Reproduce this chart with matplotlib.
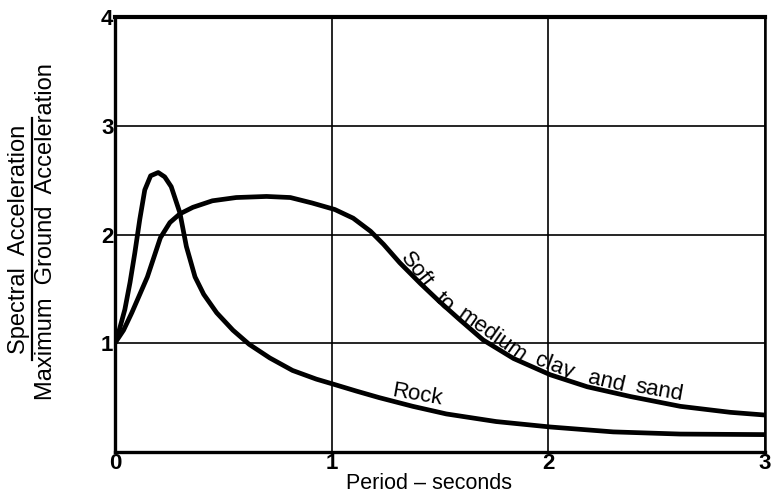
import matplotlib
matplotlib.use("Agg")
import matplotlib.pyplot as plt
from matplotlib.lines import Line2D

# values
ROCK_X = [0.0, 0.02, 0.046, 0.07, 0.092, 0.115, 0.138, 0.165, 0.2, 0.23, 0.26,
          0.30, 0.33, 0.37, 0.41, 0.47, 0.545, 0.62, 0.715, 0.82, 0.93, 1.015,
          1.115, 1.22, 1.375, 1.53, 1.76, 2.01, 2.30, 2.61, 3.0]
ROCK_Y = [1.0, 1.12, 1.31, 1.56, 1.83, 2.14, 2.41, 2.54, 2.57, 2.53, 2.44,
          2.20, 1.89, 1.61, 1.45, 1.28, 1.12, 0.99, 0.865, 0.75, 0.67, 0.62,
          0.56, 0.50, 0.42, 0.35, 0.28, 0.23, 0.185, 0.165, 0.16]

SOFT_X = [0.0, 0.04, 0.078, 0.15, 0.21, 0.254, 0.30, 0.36, 0.45, 0.56, 0.70,
          0.81, 0.91, 1.015, 1.10, 1.18, 1.24, 1.315, 1.41, 1.50, 1.59, 1.70,
          1.84, 2.01, 2.18, 2.38, 2.61, 2.84, 3.0]
SOFT_Y = [1.0, 1.12, 1.28, 1.61, 1.97, 2.11, 2.19, 2.25, 2.31, 2.34, 2.35,
          2.34, 2.29, 2.23, 2.15, 2.03, 1.91, 1.74, 1.55, 1.38, 1.22, 1.03,
          0.86, 0.71, 0.60, 0.51, 0.42, 0.365, 0.34]

X_TICKS = [0, 1, 2, 3]
Y_TICKS = [1, 2, 3, 4]

# curved label, one word at a time
SOFT_WORDS = ["Soft", "to", "medium", "clay", "and", "sand"]
SOFT_WORD_X = [1.39, 1.52, 1.74, 2.03, 2.27, 2.51]
SOFT_WORD_Y = [1.67, 1.38, 1.07, 0.79, 0.645, 0.565]
SOFT_WORD_ROT = [-52, -42, -35, -21, -13, -10]

FONT = "Liberation Sans"


def main():
    plt.rcParams["font.family"] = [FONT, "DejaVu Sans"]

    fig = plt.figure(figsize=(7.71, 4.96), dpi=100)
    ax = fig.add_axes([0.149, 0.0887, 0.843, 0.877])

    for xs, ys in [(ROCK_X, ROCK_Y), (SOFT_X, SOFT_Y)]:
        ax.plot(xs, ys, color="black", lw=3.4,
                solid_capstyle="round", solid_joinstyle="round", zorder=3)

    ax.set_xlim(0, 3)
    ax.set_ylim(0, 4)
    ax.set_xticks(X_TICKS)
    ax.set_yticks(Y_TICKS)
    ax.set_xticklabels([str(v) for v in X_TICKS], fontsize=16, fontweight="bold")
    ax.set_yticklabels([str(v) for v in Y_TICKS], fontsize=16, fontweight="bold")
    ax.tick_params(length=0, pad=1)
    ax.grid(True, color="black", lw=1.2)

    for side, lw in [("left", 2.4), ("bottom", 2.4), ("top", 3.0), ("right", 1.8)]:
        ax.spines[side].set_linewidth(lw)

    ax.set_xlabel("Period – seconds", fontsize=15.5)
    ax.xaxis.set_label_coords((429 - 115) / 650, -0.048)

    for word, x, y, rot in zip(SOFT_WORDS, SOFT_WORD_X, SOFT_WORD_Y, SOFT_WORD_ROT):
        ax.text(x, y, word, fontsize=16, rotation=rot, rotation_mode="anchor",
                ha="center", va="center", zorder=4)
    ax.text(1.394, 0.52, "Rock", fontsize=16, rotation=-10,
            rotation_mode="anchor", ha="center", va="center", zorder=4)

    # y label drawn as a fraction
    fig.text(19 / 771, 1 - 239 / 496, "Spectral  Acceleration", rotation=90,
             fontsize=17, ha="center", va="center")
    fig.text(46 / 771, 1 - 232 / 496, "Maximum  Ground  Acceleration", rotation=90,
             fontsize=17, ha="center", va="center")
    fig.add_artist(Line2D([32 / 771, 32 / 771], [1 - 360 / 496, 1 - 118 / 496],
                          transform=fig.transFigure, color="black", lw=1.6))

    fig.savefig("out.png", dpi=100)
    plt.close(fig)


if __name__ == "__main__":
    main()
